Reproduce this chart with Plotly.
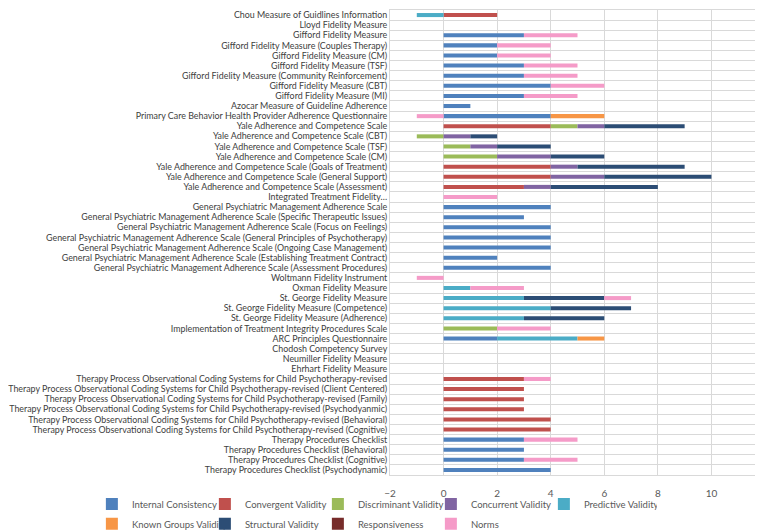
import plotly.graph_objects as go

# measures, top to bottom
measures = [
    "Chou Measure of Guidlines Information",
    "Lloyd Fidelity Measure",
    "Gifford Fidelity Measure",
    "Gifford Fidelity Measure (Couples Therapy)",
    "Gifford Fidelity Measure (CM)",
    "Gifford Fidelity Measure (TSF)",
    "Gifford Fidelity Measure (Community Reinforcement)",
    "Gifford Fidelity Measure (CBT)",
    "Gifford Fidelity Measure (MI)",
    "Azocar Measure of Guideline Adherence",
    "Primary Care Behavior Health Provider Adherence Questionnaire",
    "Yale Adherence and Competence Scale",
    "Yale Adherence and Competence Scale (CBT)",
    "Yale Adherence and Competence Scale (TSF)",
    "Yale Adherence and Competence Scale (CM)",
    "Yale Adherence and Competence Scale (Goals of Treatment)",
    "Yale Adherence and Competence Scale (General Support)",
    "Yale Adherence and Competence Scale (Assessment)",
    "Integrated Treatment Fidelity…",
    "General Psychiatric Management Adherence Scale",
    "General Psychiatric Management Adherence Scale (Specific Therapeutic Issues)",
    "General Psychiatric Management Adherence Scale (Focus on Feelings)",
    "General Psychiatric Management Adherence Scale (General Principles of Psychotherapy)",
    "General Psychiatric Management Adherence Scale (Ongoing Case Management)",
    "General Psychiatric Management Adherence Scale (Establishing Treatment Contract)",
    "General Psychiatric Management Adherence Scale (Assessment Procedures)",
    "Woltmann Fidelity Instrument",
    "Oxman Fidelity Measure",
    "St. George Fidelity Measure",
    "St. George Fidelity Measure (Competence)",
    "St. George Fidelity Measure (Adherence)",
    "Implementation of Treatment Integrity Procedures Scale",
    "ARC Principles Questionnaire",
    "Chodosh Competency Survey",
    "Neumiller Fidelity Measure",
    "Ehrhart Fidelity Measure",
    "Therapy Process Observational Coding Systems for Child Psychotherapy-revised",
    "Therapy Process Observational Coding Systems for Child Psychotherapy-revised (Client Centered)",
    "Therapy Process Observational Coding Systems for Child Psychotherapy-revised (Family)",
    "Therapy Process Observational Coding Systems for Child Psychotherapy-revised (Psychodyanmic)",
    "Therapy Process Observational Coding Systems for Child Psychotherapy-revised (Behavioral)",
    "Therapy Process Observational Coding Systems for Child Psychotherapy-revised (Cognitive)",
    "Therapy Procedures Checklist",
    "Therapy Procedures Checklist (Behavioral)",
    "Therapy Procedures Checklist (Cognitive)",
    "Therapy Procedures Checklist (Psychodynamic)",
]

internal_consistency = [0, 0, 3, 2, 2, 3, 3, 4, 3, 1, 4, 0, 0, 0, 0, 0, 0, 0, 0, 4, 3, 4, 4, 4, 2, 4,
                        0, 0, 0, 0, 0, 0, 2, 0, 0, 0, 0, 0, 0, 0, 0, 0, 3, 3, 3, 4]
convergent = [2, 0, 0, 0, 0, 0, 0, 0, 0, 0, 0, 4, 0, 0, 0, 4, 4, 3, 0, 0, 0, 0, 0, 0, 0, 0,
              0, 0, 0, 0, 0, 0, 0, 0, 0, 0, 3, 3, 3, 3, 4, 4, 0, 0, 0, 0]
discriminant = [0, 0, 0, 0, 0, 0, 0, 0, 0, 0, 0, 1, -1, 1, 2, 0, 0, 0, 0, 0, 0, 0, 0, 0, 0, 0,
                0, 0, 0, 0, 0, 2, 0, 0, 0, 0, 0, 0, 0, 0, 0, 0, 0, 0, 0, 0]
concurrent = [0, 0, 0, 0, 0, 0, 0, 0, 0, 0, 0, 1, 1, 1, 2, 1, 2, 1, 0, 0, 0, 0, 0, 0, 0, 0,
              0, 0, 0, 0, 0, 0, 0, 0, 0, 0, 0, 0, 0, 0, 0, 0, 0, 0, 0, 0]
predictive = [-1, 0, 0, 0, 0, 0, 0, 0, 0, 0, 0, 0, 0, 0, 0, 0, 0, 0, 0, 0, 0, 0, 0, 0, 0, 0,
              0, 1, 3, 4, 3, 0, 3, 0, 0, 0, 0, 0, 0, 0, 0, 0, 0, 0, 0, 0]
known_groups = [0, 0, 0, 0, 0, 0, 0, 0, 0, 0, 2, 0, 0, 0, 0, 0, 0, 0, 0, 0, 0, 0, 0, 0, 0, 0,
                0, 0, 0, 0, 0, 0, 1, 0, 0, 0, 0, 0, 0, 0, 0, 0, 0, 0, 0, 0]
structural = [0, 0, 0, 0, 0, 0, 0, 0, 0, 0, 0, 3, 1, 2, 2, 4, 4, 4, 0, 0, 0, 0, 0, 0, 0, 0,
              0, 0, 3, 3, 3, 0, 0, 0, 0, 0, 0, 0, 0, 0, 0, 0, 0, 0, 0, 0]
responsiveness = [0] * 46
norms = [0, 0, 2, 2, 2, 2, 2, 2, 2, 0, -1, 0, 0, 0, 0, 0, 0, 0, 2, 0, 0, 0, 0, 0, 0, 0,
         -1, 2, 1, 0, 0, 2, 0, 0, 0, 0, 1, 0, 0, 0, 0, 0, 2, 0, 2, 0]

series = [
    ("Internal Consistency", internal_consistency, "#4F81BD", "legend"),
    ("Convergent Validity", convergent, "#C0504D", "legend"),
    ("Discriminant Validity", discriminant, "#9BBB59", "legend"),
    ("Concurrent Validity", concurrent, "#8064A2", "legend"),
    ("Predictive Validity", predictive, "#4BACC6", "legend"),
    ("Known Groups Validity", known_groups, "#F79646", "legend2"),
    ("Structural Validity", structural, "#2C4D75", "legend2"),
    ("Responsiveness", responsiveness, "#772C2A", "legend2"),
    ("Norms", norms, "#F59BC8", "legend2"),
]

font = "Lato"
fig = go.Figure()
for name, vals, col, leg in series:
    fig.add_trace(go.Bar(
        y=measures, x=vals, name=name, orientation="h",
        marker=dict(color=col, line=dict(width=0)),
        legend=leg,
    ))

# legends sit below-left of the plot area, so they may use the full width
legend_style = dict(
    orientation="h", xref="paper", yref="paper",
    xanchor="left", yanchor="middle",
    entrywidth=68, entrywidthmode="pixels",
    itemwidth=30, font=dict(family=font, size=9.5, color="#595959"),
    bgcolor="rgba(0,0,0,0)", traceorder="normal",
)

fig.update_layout(
    barmode="relative",
    bargap=0.6,
    width=763, height=532,
    margin=dict(l=382, r=6, t=2, b=65, autoexpand=False),
    plot_bgcolor="white",
    paper_bgcolor="white",
    font=dict(family=font, size=9, color="#404040"),
    legend=dict(x=-0.795, y=-0.0624, **legend_style),
    legend2=dict(x=-0.795, y=-0.105, **legend_style),
)

fig.update_xaxes(
    range=[-2, 12], dtick=2, tick0=0,
    showgrid=True, gridcolor="#D9D9D9", gridwidth=1,
    zeroline=False,
    showline=True, linecolor="#D9D9D9", mirror=True,
    tickfont=dict(family=font, size=10, color="#595959"),
    ticks="outside", ticklen=9, tickcolor="rgba(0,0,0,0)",
)
fig.update_yaxes(
    type="category", autorange="reversed",
    tickmode="array", tickvals=measures, ticktext=measures,
    tickson="boundaries", showgrid=True, gridcolor="#D9D9D9", gridwidth=1,
    showline=True, linecolor="#D9D9D9", mirror=True,
    automargin=False,
    tickfont=dict(family=font, size=8.9, color="#404040"),
    ticks="outside", ticklen=5, tickcolor="rgba(0,0,0,0)",
)

fig.write_html("out.html")
